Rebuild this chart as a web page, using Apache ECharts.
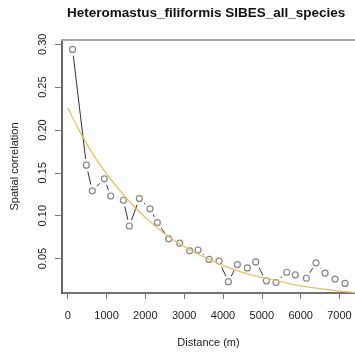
<!DOCTYPE html>
<html>
<head>
<meta charset="utf-8">
<script src="https://cdn.jsdelivr.net/npm/echarts@6/dist/echarts.min.js"></script>
<style>
html,body{margin:0;padding:0;background:#fff;}
#chart{width:355px;height:356px;}
</style>
</head>
<body>
<div id="chart"></div>
<script>
// Data
const titleText = "Heteromastus_filiformis SIBES_all_species";
const distances = [125, 480, 634, 943, 1107, 1433, 1588, 1845, 2120, 2309, 2602, 2885, 3143, 3357, 3640, 3897, 4138, 4370, 4627, 4843, 5117, 5366, 5641, 5864, 6148, 6397, 6629, 6886, 7143];
const correlations = [0.294, 0.159, 0.129, 0.143, 0.123, 0.118, 0.088, 0.120, 0.108, 0.092, 0.073, 0.068, 0.059, 0.060, 0.049, 0.047, 0.023, 0.043, 0.039, 0.046, 0.024, 0.022, 0.034, 0.031, 0.027, 0.045, 0.033, 0.026, 0.021];
const fitDistances = [0, 500, 1000, 1500, 2000, 2500, 3000, 3500, 4000, 4500, 5000, 5500, 6000, 6500, 7000, 7500];
const fitValues = [0.226, 0.183, 0.149, 0.121, 0.098, 0.079, 0.064, 0.052, 0.042, 0.034, 0.028, 0.023, 0.018, 0.015, 0.012, 0.010];
const xTicks = [0, 1000, 2000, 3000, 4000, 5000, 6000, 7000];
const yTicks = [0.05, 0.10, 0.15, 0.20, 0.25, 0.30];

const pts = distances.map((d, i) => [d, correlations[i]]);
const fit = fitDistances.map((d, i) => [d, fitValues[i]]);

const chart = echarts.init(document.getElementById('chart'), null, {renderer: 'canvas'});
const font = 'Liberation Sans, Arial, sans-serif';
chart.setOption({
  animation: false,
  backgroundColor: '#ffffff',
  graphic: [{
    type: 'text',
    left: 67,
    top: 6,
    style: {text: titleText, fontFamily: font, fontSize: 13.5, fontWeight: 'bold', fill: '#111'}
  }],
  grid: {left: 62, top: 40, right: 0, bottom: 63, containLabel: false},
  xAxis: [{
    type: 'value',
    min: -147,
    max: 7400,
    name: 'Distance (m)',
    nameLocation: 'middle',
    nameGap: 44,
    nameTextStyle: {fontFamily: font, fontSize: 11, color: '#222'},
    axisLine: {show: true, onZero: false, lineStyle: {color: '#444', width: 1.5}},
    axisTick: {show: true, length: 6, customValues: xTicks, lineStyle: {color: '#777'}},
    axisLabel: {customValues: xTicks, margin: 17, fontFamily: font, fontSize: 11, color: '#222',
      formatter: v => String(Math.round(v))},
    splitLine: {show: false}
  }, {
    type: 'value',
    position: 'top',
    min: -147,
    max: 7400,
    axisLine: {show: true, onZero: false, lineStyle: {color: '#a8a8a8', width: 2}},
    axisTick: {show: false},
    axisLabel: {show: false},
    splitLine: {show: false}
  }],
  yAxis: {
    type: 'value',
    min: 0.0098,
    max: 0.305,
    name: 'Spatial correlation',
    nameLocation: 'middle',
    nameGap: 42,
    nameTextStyle: {fontFamily: font, fontSize: 11, color: '#222'},
    axisLine: {show: true, onZero: false, lineStyle: {color: '#666', width: 2}},
    axisTick: {show: true, length: 7, customValues: yTicks, lineStyle: {color: '#777'}},
    axisLabel: {customValues: yTicks, rotate: 90, margin: 14, fontFamily: font, fontSize: 11, color: '#222',
      formatter: v => v.toFixed(2)},
    splitLine: {show: false}
  },
  series: [{
    type: 'line',
    data: pts,
    symbol: 'none',
    lineStyle: {color: '#333', width: 1},
    z: 1,
    silent: true
  }, {
    type: 'scatter',
    data: pts,
    symbol: 'circle',
    symbolSize: 13,
    itemStyle: {color: '#ffffff', opacity: 1},
    z: 2,
    silent: true
  }, {
    type: 'scatter',
    data: pts,
    symbol: 'circle',
    symbolSize: 6,
    itemStyle: {color: '#ffffff', borderColor: '#666', borderWidth: 1.2},
    z: 3,
    silent: true
  }, {
    type: 'line',
    data: fit,
    smooth: true,
    symbol: 'none',
    lineStyle: {color: '#ebbf63', width: 1.3},
    z: 4,
    silent: true
  }]
});
</script>
</body>
</html>
